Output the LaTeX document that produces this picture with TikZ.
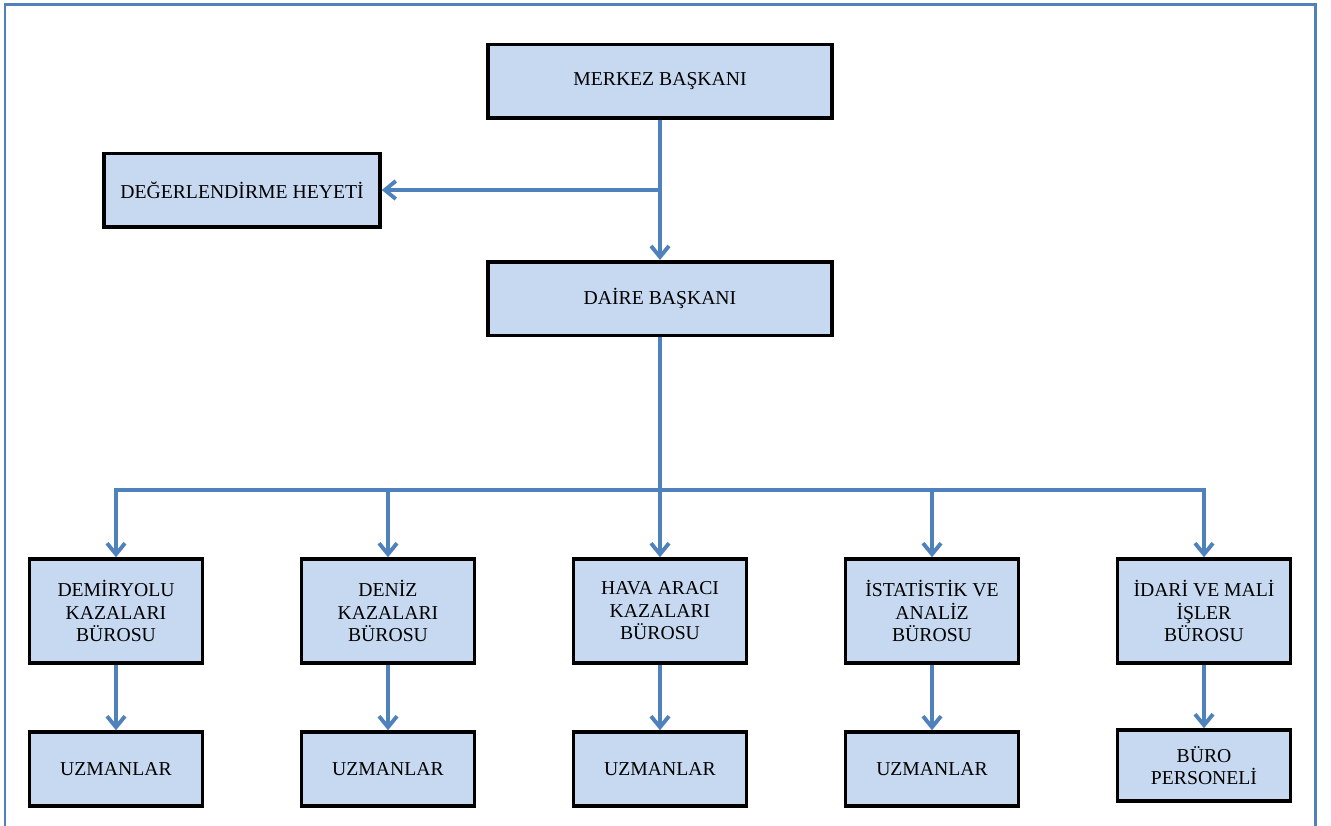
\documentclass[tikz,border=0pt]{standalone}
\usepackage{fontspec}
\setmainfont{Liberation Serif}
\usepackage{tikz}
\usetikzlibrary{positioning}
\usetikzlibrary{shapes,arrows.meta}
\definecolor{boxblue}{HTML}{C6D9F1}
\definecolor{lineblue}{HTML}{4F81BD}
\tikzset{
block/.style = {draw, fill=boxblue, rectangle, line width=2pt, minimum height=2.08cm, minimum width=3.46cm, align=center, font=\fontsize{11.2}{12.8}\selectfont},
wide/.style  = {minimum height=1.47cm, minimum width=6.88cm},
low/.style   = {minimum height=1.48cm},
tmp/.style   = {coordinate},
link/.style  = {draw=lineblue, line width=2.2pt},
frame/.style = {draw=lineblue, line width=1.7pt}
}

\begin{document}
\begin{tikzpicture}[auto, node distance=5.44cm, >={Straight Barb[length=2.2mm,width=3.6mm]}]
    \useasboundingbox (0,0) rectangle (26.62,-16.5);
    % outer frame, its lower edge is cut off
    \draw [frame] (0.1,-16.6) |- (26.3,-0.08) -- (26.3,-16.6);

    % top of the chart
    \node at (13.2,-1.62) [block, wide] (merkez) {MERKEZ BAŞKANI};
    \node [block, wide, below of=merkez, node distance=4.35cm] (daire) {DAİRE BAŞKANI};
    \node at (4.84,-3.8) [block, wide, minimum width=5.52cm] (heyet) {DEĞERLENDİRME HEYETİ};
    \node [tmp, below of=merkez, node distance=2.18cm] (tmp1) {};
    \node [tmp, below of=daire, node distance=3.83cm] (bar) {};

    % the offices
    \node at (2.32,-12.22) [block] (rail) {DEMİRYOLU\\KAZALARI\\BÜROSU};
    \node [block, right of=rail] (sea) {DENİZ\\KAZALARI\\BÜROSU};
    \node [block, right of=sea] (air) {HAVA ARACI\\KAZALARI\\BÜROSU};
    \node [block, right of=air] (stat) {İSTATİSTİK VE\\ANALİZ\\BÜROSU};
    \node [block, right of=stat] (admin) {İDARİ VE MALİ\\İŞLER\\BÜROSU};

    % staff of each office
    \node [block, low, below of=rail, node distance=3.16cm] (railx) {UZMANLAR};
    \node [block, low, below of=sea, node distance=3.16cm] (seax) {UZMANLAR};
    \node [block, low, below of=air, node distance=3.16cm] (airx) {UZMANLAR};
    \node [block, low, below of=stat, node distance=3.16cm] (statx) {UZMANLAR};
    \node [block, low, minimum height=1.42cm, below of=admin, node distance=3.09cm] (adminx) {BÜRO\\PERSONELİ};

    % connectors
    \draw [link,->] (merkez) -- (daire);
    \draw [link,->] (tmp1) -- (heyet);
    \draw [link] (daire) -- (bar);
    \draw [link,->] (bar) -| (rail);
    \draw [link,->] (bar) -| (sea);
    \draw [link,->] (bar) -- (air);
    \draw [link,->] (bar) -| (stat);
    \draw [link,->] (bar) -| (admin);
    \draw [link,->] (rail) -- (railx);
    \draw [link,->] (sea) -- (seax);
    \draw [link,->] (air) -- (airx);
    \draw [link,->] (stat) -- (statx);
    \draw [link,->] (admin) -- (adminx);
\end{tikzpicture}
\end{document}
